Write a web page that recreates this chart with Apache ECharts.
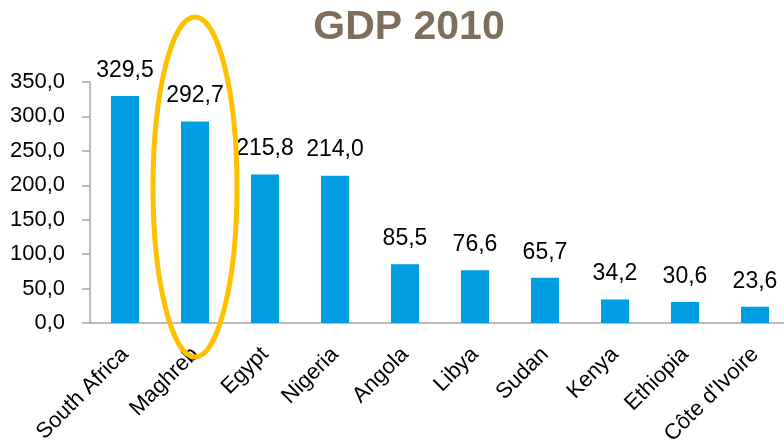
<!DOCTYPE html>
<html>
<head>
<meta charset="utf-8">
<script src="https://cdn.jsdelivr.net/npm/echarts@6/dist/echarts.min.js"></script>
<style>
  html, body { margin: 0; padding: 0; background: #fff; }
  #chart { width: 784px; height: 439px; }
</style>
</head>
<body>
<div id="chart"></div>
<script>
  const categories = ['South Africa', 'Maghreb', 'Egypt', 'Nigeria', 'Angola', 'Libya', 'Sudan', 'Kenya', 'Ethiopia', "Côte d'Ivoire"];
  const gdp = [329.5, 292.7, 215.8, 214.0, 85.5, 76.6, 65.7, 34.2, 30.6, 23.6];
  const highlighted = 'Maghreb';

  const fmt = (v) => Number(v).toFixed(1).replace('.', ',');
  const font = '"Liberation Sans", Arial, sans-serif';

  const chart = echarts.init(document.getElementById('chart'));
  chart.setOption({
    animation: false,
    title: {
      text: 'GDP 2010',
      left: 404,
      top: 2,
      textAlign: 'center',
      textStyle: {
        fontFamily: font,
        fontWeight: 'bold',
        fontSize: 41,
        color: '#7d6f5a'
      }
    },
    grid: { left: 90, right: -6, top: 82, bottom: 116, outerBoundsMode: 'none', containLabel: false },
    xAxis: {
      type: 'category',
      data: categories,
      axisLine: { lineStyle: { color: '#a6a6a6', width: 1.5 } },
      axisTick: { length: 8, lineStyle: { color: '#a6a6a6', width: 1.5 } },
      axisLabel: {
        rotate: 45,
        interval: 0,
        margin: 28,
        fontFamily: font,
        fontSize: 22,
        color: '#000'
      }
    },
    yAxis: {
      type: 'value',
      min: 0,
      max: 350,
      interval: 50,
      splitLine: { show: false },
      axisLine: { show: true, lineStyle: { color: '#a6a6a6', width: 1.5 } },
      axisTick: { show: true, length: 8, lineStyle: { color: '#a6a6a6', width: 1.5 } },
      axisLabel: {
        margin: 25,
        formatter: fmt,
        fontFamily: font,
        fontSize: 22,
        color: '#000'
      }
    },
    series: [{
      type: 'bar',
      data: gdp,
      barWidth: '40%',
      itemStyle: { color: '#009fe1' },
      label: {
        show: true,
        position: 'top',
        distance: 14,
        formatter: (p) => fmt(p.value),
        fontFamily: font,
        fontSize: 23,
        color: '#000'
      }
    }]
  });

  // orange ellipse around the highlighted bar
  const c = chart.convertToPixel({ xAxisIndex: 0 }, highlighted);
  chart.setOption({
    graphic: [{
      type: 'ellipse',
      z: 100,
      shape: { cx: c, cy: 187, rx: 42, ry: 170 },
      style: { fill: 'none', stroke: '#ffc000', lineWidth: 5 }
    }]
  });
</script>
</body>
</html>
